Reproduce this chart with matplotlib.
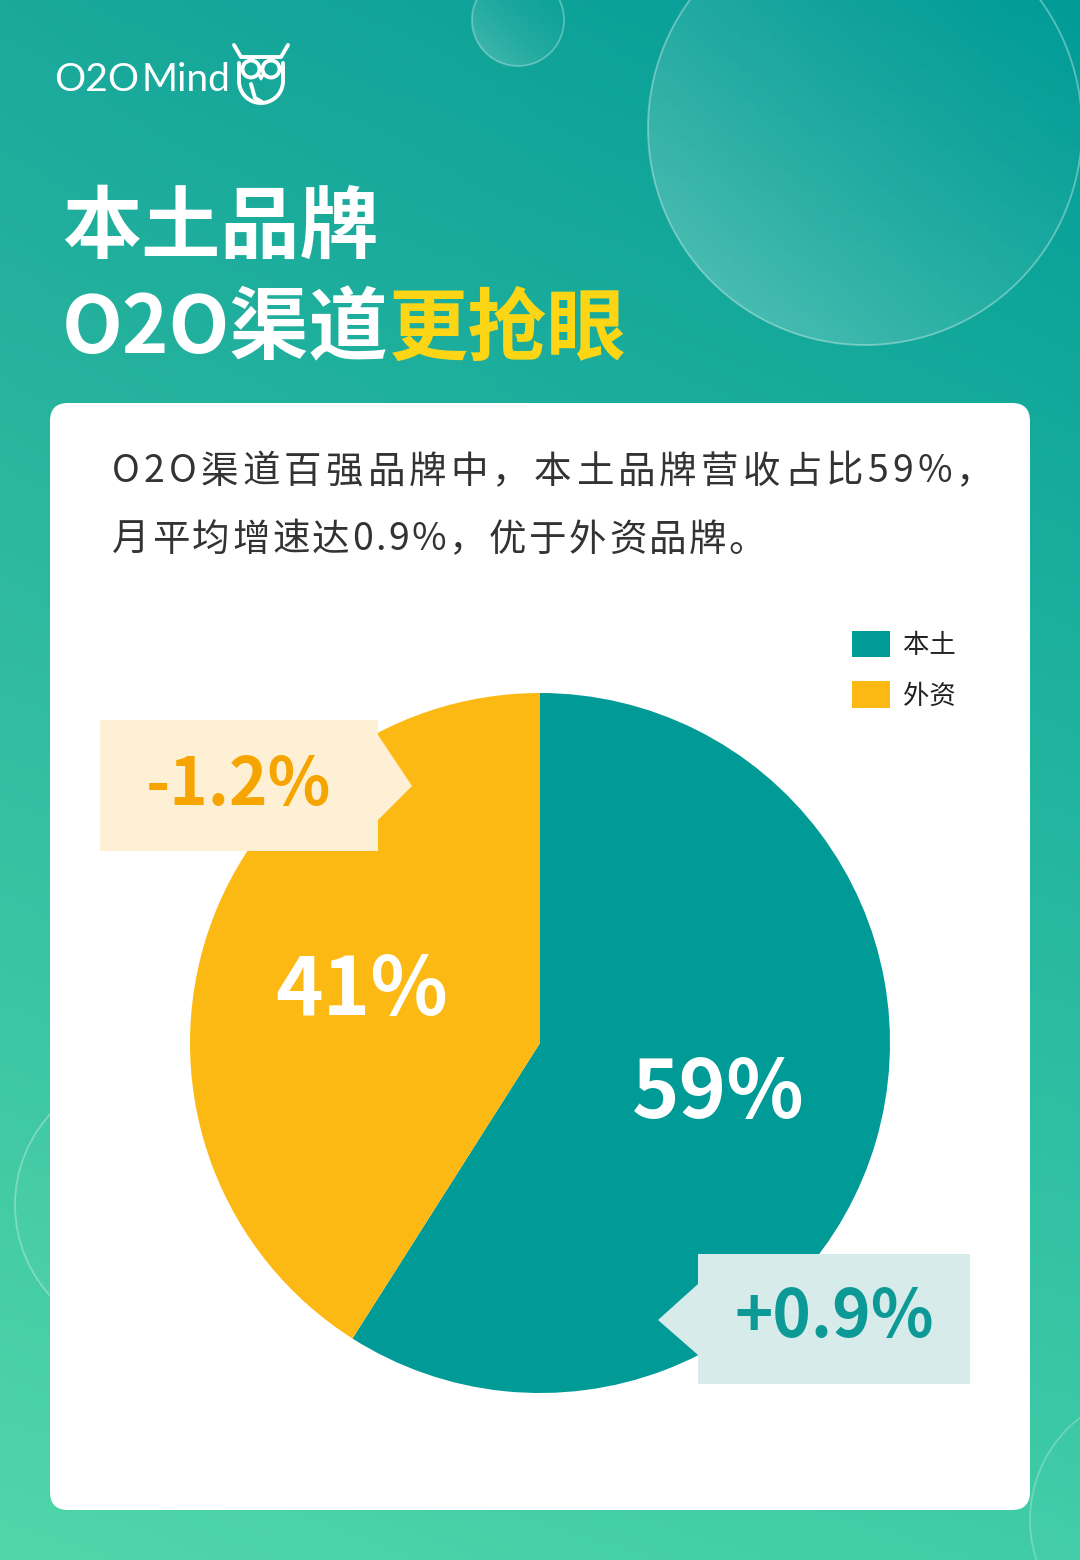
import matplotlib.pyplot as plt
import numpy as np
from matplotlib.patches import Circle, FancyBboxPatch, Polygon
from matplotlib.colors import to_rgb

plt.rcParams['font.family'] = ['Noto Sans CJK SC', 'DejaVu Sans']

# data
categories = ['本土', '外资']
share = [59, 41]            # revenue share, %
growth = [0.9, -1.2]        # avg monthly growth, %

title_1 = '本土品牌'
title_2 = 'O2O渠道'
title_2_hl = '更抢眼'
subtitle = ['O2O渠道百强品牌中，本土品牌营收占比59%，',
            '月平均增速达0.9%，优于外资品牌。']

TEAL = '#009a97'
YELLOW = '#fdb913'
W, H = 1080, 1560

fig = plt.figure(figsize=(W / 100, H / 100), dpi=100)

# background axes in pixel units (y down)
bg = fig.add_axes([0, 0, 1, 1])
bg.set_xlim(0, W)
bg.set_ylim(H, 0)
bg.axis('off')

# gradient background
tl, tr, bl, br = [np.array(to_rgb(c)) for c in ('#1aa99b', '#029c97', '#50d6a9', '#40cca7')]
gy, gx = np.mgrid[0:1:200j, 0:1:140j]
gx, gy = gx[..., None], gy[..., None]
img = (1 - gx) * (1 - gy) * tl + gx * (1 - gy) * tr + (1 - gx) * gy * bl + gx * gy * br
bg.imshow(img, extent=[0, W, H, 0], aspect='auto', zorder=0)

# decorative bubbles
def bubble(cx, cy, r, amax, edge_alpha):
    c = Circle((cx, cy), r, facecolor='none', edgecolor=(1, 1, 1, edge_alpha), lw=1.3, zorder=2)
    bg.add_patch(c)
    yy, xx = np.mgrid[0:1:100j, 0:1:100j]
    a = amax * np.clip((yy + (1 - xx)) / 2, 0, 1) ** 2
    rgba = np.ones((100, 100, 4))
    rgba[..., 3] = a
    im = bg.imshow(rgba, extent=[cx - r, cx + r, cy + r, cy - r], aspect='auto', zorder=1)
    im.set_clip_path(c)

bubble(865, 128, 217, 0.30, 0.35)
bubble(518, 20, 46, 0.25, 0.30)
bubble(150, 1205, 135, 0.05, 0.30)
bubble(1160, 1520, 130, 0.05, 0.25)
bg.set_xlim(0, W)
bg.set_ylim(H, 0)

# white card
card = FancyBboxPatch((50, 403), 980, 1107, boxstyle='round,pad=0,rounding_size=18',
                      facecolor='white', edgecolor='none', zorder=3)
bg.add_patch(card)

# logo
logo = bg.text(54, 80, 'O2O', fontsize=28, color='white', va='center',
               family=['Lato', 'DejaVu Sans'], zorder=4)
bg.annotate('Mind', xy=(1, 0.5), xycoords=logo, xytext=(1.5, 0), textcoords='offset points',
            fontsize=28, color='white', va='center', family=['Lato', 'DejaVu Sans'], zorder=4)
owl_kw = dict(color='white', lw=2.8, solid_capstyle='round', zorder=4)
bg.plot([234, 241, 281, 288], [45, 57, 57, 45], **owl_kw)
bg.add_patch(Circle((251, 69), 8.5, fill=False, edgecolor='white', lw=2.8, zorder=4))
bg.add_patch(Circle((271, 69), 8.5, fill=False, edgecolor='white', lw=2.8, zorder=4))
t = np.linspace(np.pi, 2 * np.pi, 40)
bg.plot(261 + 22 * np.cos(t), 81 - 22 * np.sin(t), **owl_kw)
bg.plot([239, 239], [63, 81], **owl_kw)
bg.plot([283, 283], [63, 81], **owl_kw)
bg.plot([251, 255, 262], [84, 98, 102], **owl_kw)
bg.add_patch(Polygon([[258, 75], [264, 75], [261, 80]], closed=True, color='white', zorder=4))

# title
bg.text(62, 228, title_1, fontsize=57, fontweight='bold', color='white', va='center', zorder=4)
t2 = bg.text(62, 330, title_2, fontsize=57, fontweight='bold', color='white', va='center', zorder=4)
bg.annotate(title_2_hl, xy=(1, 0.5), xycoords=t2, va='center', ha='left',
            fontsize=57, fontweight='bold', color='#fcd615', zorder=4)

# subtitle, drawn char by char for letter spacing (first line justified)
def spaced_text(ax, x, y, s, gap, **kw):
    prev = ax.text(x, y, s[0], va='center', **kw)
    for ch in s[1:]:
        prev = ax.annotate(ch, xy=(1, 0.5), xycoords=prev, xytext=(gap, 0),
                           textcoords='offset points', va='center', **kw)

for i, (line, gap) in enumerate(zip(subtitle, [3.0, 1.8])):
    spaced_text(bg, 112, 472 + i * 68, line, gap, fontsize=27, color='#333333', zorder=4)

# pie
pax = fig.add_axes([190 / W, 1 - 1393 / H, 700 / W, 700 / H])
wedges, _, autotexts = pax.pie(
    share, colors=[TEAL, YELLOW], startangle=90, counterclock=False,
    autopct=lambda p: f'{p:.0f}%', pctdistance=0.53,
    textprops=dict(color='white', fontsize=58, fontweight='bold'),
    wedgeprops=dict(linewidth=0))
pax.set_xlim(-1, 1)
pax.set_ylim(-1, 1)
pax.set_aspect('equal')

pax.legend(wedges, categories, loc='upper left', bbox_to_anchor=(852 / W, 1 - 631 / H),
           bbox_transform=fig.transFigure, frameon=False, fontsize=19,
           handlelength=1.45, handleheight=1.15, handletextpad=0.5,
           labelspacing=0.85, borderpad=0, borderaxespad=0, labelcolor='#222222')

# overlay for growth callouts
top = fig.add_axes([0, 0, 1, 1])
top.set_xlim(0, W)
top.set_ylim(H, 0)
top.axis('off')
top.patch.set_alpha(0)

foreign_box = [[100, 720], [378, 720], [378, 735], [412, 786], [378, 820],
               [378, 851], [100, 851]]
local_box = [[698, 1254], [970, 1254], [970, 1384], [698, 1384], [698, 1355],
             [658, 1320], [698, 1284]]
top.add_patch(Polygon(local_box, closed=True, facecolor='#d6ebea', edgecolor='none'))
top.add_patch(Polygon(foreign_box, closed=True, facecolor='#fef0d4', edgecolor='none'))
top.text(834, 1318, f'{growth[0]:+.1f}%', fontsize=47, fontweight='bold',
         color='#0d9a96', ha='center', va='center')
top.text(238, 786, f'{growth[1]:+.1f}%', fontsize=47, fontweight='bold',
         color='#f6a400', ha='center', va='center')

fig.savefig('out.png', dpi=100)
